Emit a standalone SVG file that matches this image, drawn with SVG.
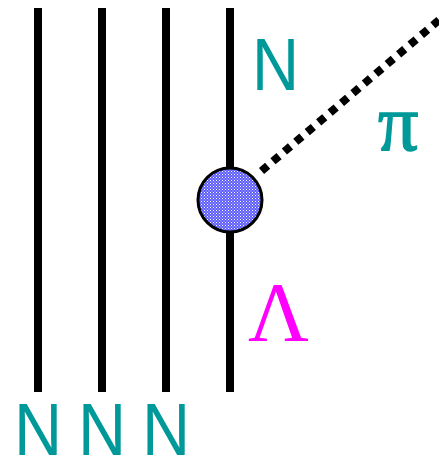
<svg xmlns="http://www.w3.org/2000/svg" width="439" height="460" viewBox="0 0 439 460">
<defs>
<style>
.line{stroke:#000;stroke-width:8;fill:none}
.teal{fill:#009999;font-family:"Liberation Sans",Arial,sans-serif;font-size:74px}
.serif{font-family:"Liberation Serif","Times New Roman",serif}
</style>
<pattern id="dots" width="3" height="3" patternUnits="userSpaceOnUse">
<rect width="3" height="3" fill="#5c5cff"/>
<rect width="1" height="1" fill="#ffffff"/>
<rect x="1.5" y="1.5" width="1" height="1" fill="#dcdcff"/>
</pattern>
</defs>
<g id="connectors">
<line class="line" x1="38" y1="8" x2="38" y2="392"/>
<line class="line" x1="102" y1="8" x2="102" y2="392"/>
<line class="line" x1="166" y1="8" x2="166" y2="392"/>
<line class="line" x1="230" y1="8" x2="230" y2="392"/>
<line x1="439" y1="20" x2="258" y2="174" stroke="#000" stroke-width="8" stroke-dasharray="8 7"/>
</g>
<g id="vertex">
<circle cx="230" cy="200" r="32" fill="url(#dots)" stroke="#000" stroke-width="3"/>
</g>
<g id="label-N-top"><text class="teal" x="252" y="90" transform="translate(252 0) scale(0.88 1) translate(-252 0)">N</text></g>
<g id="label-pi"><text class="serif" x="378" y="150" font-size="80" fill="#009999" stroke="#009999" stroke-width="1.5">π</text></g>
<g id="label-Lambda"><text class="serif" x="248" y="341" font-size="84" fill="#ff00ff">Λ</text></g>
<g id="label-N1"><text class="teal" x="14" y="455" transform="translate(14 0) scale(0.9 1) translate(-14 0)">N</text></g>
<g id="label-N2"><text class="teal" x="78" y="455" transform="translate(78 0) scale(0.9 1) translate(-78 0)">N</text></g>
<g id="label-N3"><text class="teal" x="142" y="455" transform="translate(142 0) scale(0.9 1) translate(-142 0)">N</text></g>
</svg>
